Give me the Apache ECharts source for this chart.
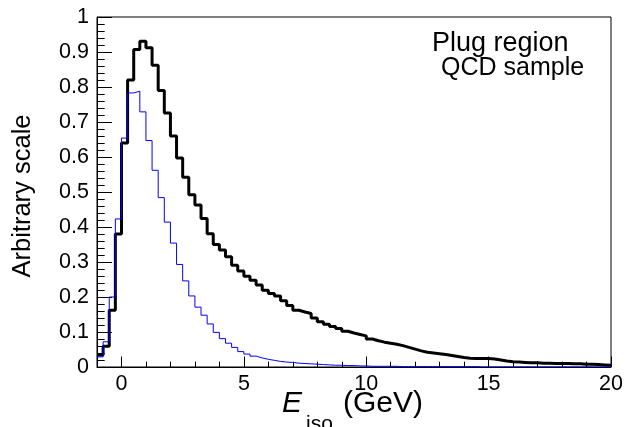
<!DOCTYPE html>
<html>
<head>
<meta charset="utf-8">
<script src="https://cdn.jsdelivr.net/npm/echarts@6/dist/echarts.min.js"></script>
<style>
html,body{margin:0;padding:0;background:#fff;}
#c{width:626px;height:427px;}
</style>
</head>
<body>
<div id="c"></div>
<script>
// Bin edges (GeV), 0.25 GeV bins from -1 to 20
const binEdges = [-1.00,-0.75,-0.50,-0.25,0.00,0.25,0.50,0.75,1.00,1.25,1.50,1.75,2.00,2.25,2.50,2.75,3.00,3.25,3.50,3.75,
  4.00,4.25,4.50,4.75,5.00,5.25,5.50,5.75,6.00,6.25,6.50,6.75,7.00,7.25,7.50,7.75,8.00,8.25,8.50,8.75,
  9.00,9.25,9.50,9.75,10.00,10.25,10.50,10.75,11.00,11.25,11.50,11.75,12.00,12.25,12.50,12.75,13.00,13.25,13.50,13.75,
  14.00,14.25,14.50,14.75,15.00,15.25,15.50,15.75,16.00,16.25,16.50,16.75,17.00,17.25,17.50,17.75,18.00,18.25,18.50,18.75,
  19.00,19.25,19.50,19.75,20.00];

// Black (thick) histogram contents
const blackValues = [0.034,0.059,0.162,0.380,0.640,0.820,0.907,0.931,0.912,0.862,0.790,0.726,0.660,0.597,0.542,0.492,0.463,0.424,0.381,0.350,
  0.334,0.315,0.291,0.274,0.259,0.248,0.234,0.219,0.210,0.203,0.189,0.176,0.162,0.157,0.153,0.140,0.129,0.122,0.116,0.110,
  0.102,0.097,0.093,0.089,0.080,0.075,0.071,0.068,0.065,0.061,0.056,0.051,0.046,0.042,0.040,0.038,0.036,0.033,0.030,0.027,
  0.025,0.024,0.024,0.024,0.023,0.020,0.017,0.015,0.014,0.013,0.012,0.012,0.011,0.011,0.010,0.010,0.010,0.009,0.009,0.008,
  0.008,0.007,0.006,0.005];

// Blue (thin) histogram contents
const blueValues = [0.029,0.072,0.200,0.423,0.654,0.783,0.788,0.729,0.647,0.562,0.484,0.414,0.354,0.293,0.246,0.203,0.171,0.148,0.123,0.099,
  0.081,0.068,0.056,0.044,0.037,0.031,0.026,0.022,0.019,0.016,0.014,0.013,0.011,0.010,0.009,0.008,0.007,0.006,0.005,0.005,
  0.004,0.004,0.003,0.003,0.002,0.002,0.002,0.002,0.002,0.001,0.001,0.001,0.001,0.001,0.001,0.001,0.001,0.001,0.001,0.001,
  0.001,0.001,0.000,0.000,0.000,0.000,0.000,0.000,0.000,0.000,0.000,0.000,0.000,0.000,0.000,0.000,0.000,0.000,0.000,0.000,
  0.000,0.000,0.000,0.000];

const xMajorTicks = [0, 5, 10, 15, 20];
const yTickLabels = ['0','0.1','0.2','0.3','0.4','0.5','0.6','0.7','0.8','0.9','1'];

function histPoints(vals) {
  const pts = vals.map((v, i) => [binEdges[i], v]);
  pts.push([binEdges[binEdges.length - 1], vals[vals.length - 1]]);
  return pts;
}

const FONT = '"Liberation Sans", Arial, Helvetica, sans-serif';
const chart = echarts.init(document.getElementById('c'), null, {renderer: 'canvas'});

const option = {
  animation: false,
  backgroundColor: '#ffffff',
  grid: {left: 97, right: 15, top: 17, bottom: 60, show: true, borderColor: '#000', borderWidth: 1, backgroundColor: 'transparent'},
  xAxis: [
    {
      type: 'value', min: -1, max: 20, interval: 1, position: 'bottom',
      axisLine: {show: true, onZero: false, lineStyle: {color: '#000', width: 1}},
      axisTick: {show: true, inside: true, length: 10.5, customValues: xMajorTicks, lineStyle: {color: '#000'}},
      axisLabel: {show: true, customValues: xMajorTicks, margin: 6, color: '#000', fontSize: 21.5, fontFamily: FONT},
      splitLine: {show: false}
    },
    {
      type: 'value', min: -1, max: 20, interval: 1, position: 'bottom',
      axisLine: {show: false},
      axisTick: {show: true, inside: true, length: 5.3, lineStyle: {color: '#000'}},
      axisLabel: {show: false},
      splitLine: {show: false}
    }
  ],
  yAxis: {
    type: 'value', min: 0, max: 1, interval: 0.1,
    axisLine: {show: true, onZero: false, lineStyle: {color: '#000', width: 1}},
    axisTick: {show: true, inside: true, length: 15, lineStyle: {color: '#000'}},
    minorTick: {show: true, splitNumber: 5, length: 7.7, lineStyle: {color: '#000'}},
    axisLabel: {margin: 8, color: '#000', fontSize: 21.5, fontFamily: FONT,
      formatter: (v, i) => yTickLabels[i]},
    splitLine: {show: false}
  },
  series: [
    {
      type: 'line', step: 'end', xAxisIndex: 0, data: histPoints(blackValues),
      symbol: 'none', lineStyle: {color: '#000000', width: 3}, z: 3
    },
    {
      type: 'line', step: 'end', xAxisIndex: 0, data: histPoints(blueValues),
      symbol: 'none', lineStyle: {color: '#0000ff', width: 1}, z: 4
    }
  ],
  graphic: [
    {type: 'text', left: 432, top: 30, style: {text: 'Plug region', font: '27px ' + FONT, fill: '#000'}},
    {type: 'text', left: 441, top: 56, style: {text: 'QCD sample', font: '25px ' + FONT, fill: '#000'}},
    {type: 'text', x: 23, y: 196, rotation: Math.PI / 2,
      style: {text: 'Arbitrary scale', font: '25.5px ' + FONT, fill: '#000', align: 'center', verticalAlign: 'middle'}},
    {type: 'text', x: 282, y: 419, style: {text: 'E', font: 'italic 30px ' + FONT, fill: '#000', align: 'left', verticalAlign: 'bottom'}},
    {type: 'text', x: 306, y: 435, style: {text: 'iso', font: '21px ' + FONT, fill: '#000', align: 'left', verticalAlign: 'bottom'}},
    {type: 'text', x: 343, y: 419, style: {text: '(GeV)', font: '30px ' + FONT, fill: '#000', align: 'left', verticalAlign: 'bottom'}}
  ]
};
chart.setOption(option);
</script>
</body>
</html>
